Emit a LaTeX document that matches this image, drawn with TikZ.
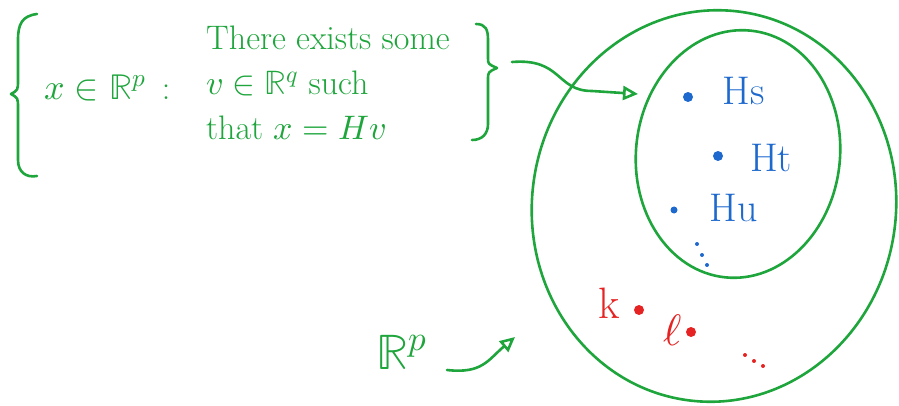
\documentclass[tikz,border=0pt]{standalone}
\usepackage{fontspec}
\usepackage{unicode-math}
\usepackage{xcolor}
\usetikzlibrary{arrows.meta}
\definecolor{penGreen}{RGB}{30,165,60}
\definecolor{penBlue}{RGB}{30,105,205}
\definecolor{penRed}{RGB}{230,35,35}

\begin{document}
\begin{tikzpicture}[x=1pt, y=-1pt, line cap=round, line join=round,
    pen/.style={penGreen, line width=2.6pt},
    penarrow/.style={pen, -{Triangle[open, length=15pt, width=14pt]}},
    greentext/.style={text=penGreen, font=\fontsize{34}{45}\selectfont, inner sep=0pt},
    bluetext/.style={text=penBlue, font=\fontsize{40}{40}\selectfont, inner sep=0pt},
    redtext/.style={text=penRed, font=\fontsize{44}{44}\selectfont, inner sep=0pt},
    bluedot/.style={circle, fill=penBlue, inner sep=0pt, minimum size=10pt},
    reddot/.style={circle, fill=penRed, inner sep=0pt, minimum size=10pt}]
    \useasboundingbox (0,0) rectangle (899,406);

    % Set-builder braces
    \draw[pen] (37,14) .. controls (22,16) and (18,24) .. (18,40) -- (18,80)
        .. controls (18,90) .. (11,94) .. controls (18,98) .. (18,108) -- (18,160)
        .. controls (18,172) and (26,178) .. (37,176);
    \draw[pen] (476,24) .. controls (486,24) and (488,30) .. (488,40) -- (488,58)
        .. controls (488,64) .. (497,68) .. controls (488,72) .. (488,80) -- (488,124)
        .. controls (488,134) and (482,140) .. (472,140);

    % Set description
    \node[greentext, font=\fontsize{36}{40}\selectfont] (member) at (95,88) {$x \in \mathbb{R}^p$};
    \node[greentext] (colon) at (166,92) {:};
    \node[greentext, anchor=west, align=left] (condition) at (206,83)
        {There exists some\\$v \in \mathbb{R}^q$ such\\that $x = Hv$};

    % Outer region R^p
    \draw[pen, rotate around={-8:(714,206)}] (714,206) ellipse [x radius=182, y radius=196];

    % Inner region (column space)
    \draw[pen, rotate around={-6:(738,154)}] (738,154) ellipse [x radius=102, y radius=124];

    % Image points
    \node[bluedot] (dotS) at (688,97) {};
    \node[bluetext] (labelS) at (744,91) {Hs};
    \node[bluedot] (dotT) at (718,156) {};
    \node[bluetext] (labelT) at (771,158) {Ht};
    \node[bluedot, minimum size=7pt] (dotU) at (674,210) {};
    \node[bluetext] (labelU) at (734,208) {Hu};
    \fill[penBlue] (697,244) circle (2) (702,255) circle (2) (707,265) circle (2);

    % Other points
    \node[redtext] (labelK) at (609,303) {k};
    \node[reddot] (dotK) at (639,310) {};
    \node[redtext] (labelL) at (673,330) {$\ell$};
    \node[reddot] (dotL) at (691,332) {};
    \fill[penRed] (745,355) circle (2) (754,361) circle (2) (763,366) circle (2);

    % Space label
    \node[greentext, font=\fontsize{50}{50}\selectfont] (space) at (402,352) {$\mathbb{R}^p$};

    % Arrows
    \coordinate (braceTip) at (512,62);
    \coordinate (innerEntry) at (638,94);
    \draw[penarrow] (braceTip) .. controls (562,58) and (556,91) .. (592,91) -- (innerEntry);
    \coordinate (spaceTail) at (447,370);
    \coordinate (outerEntry) at (515,337);
    \draw[penarrow] (spaceTail) .. controls (482,374) and (488,360) .. (outerEntry);
\end{tikzpicture}
\end{document}
